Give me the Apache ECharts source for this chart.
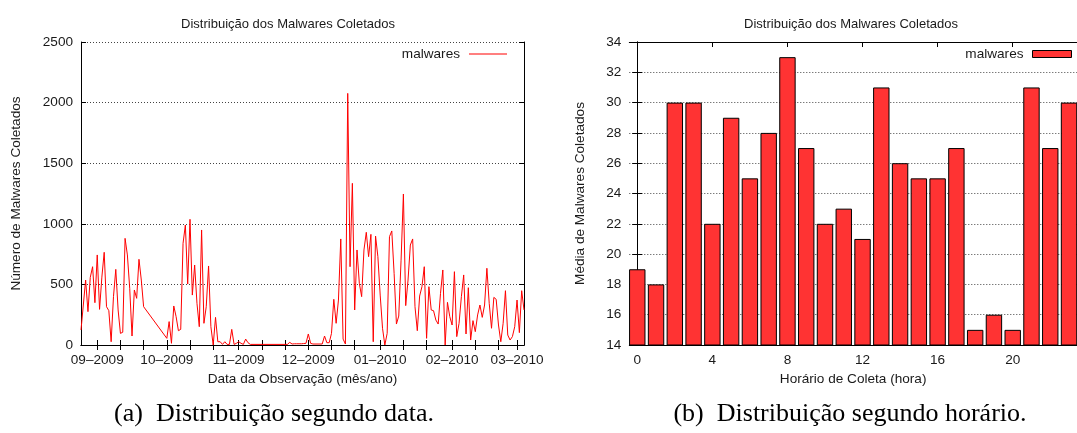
<!DOCTYPE html>
<html>
<head>
<meta charset="utf-8">
<script src="https://cdn.jsdelivr.net/npm/echarts@6/dist/echarts.min.js"></script>
<style>
  html, body { margin: 0; padding: 0; background: #fff; overflow: hidden; }
  #chart { width: 1077px; height: 433px; }
</style>
</head>
<body>
<div id="chart"></div>
<script>
// ---- (a) daily malware counts ----
const firstDay = [2009, 7, 25]; // 25 Aug 2009 (month is 0-based)
const dayNumber = [
  0, 1, 2, 3, 4, 5, 6, 7, 8, 9, 10, 11, 12, 13, 14, 15, 16, 17, 18, 19,
  20, 21, 22, 23, 24, 25, 26, 27,
  37, 38, 39, 40, 41, 42, 43, 44, 45, 46, 47, 48, 49, 50, 51, 52, 53, 54,
  55, 56, 57, 58, 59, 60, 61, 62, 63, 64, 65, 66, 67, 68, 69, 70, 71, 72, 73,
  89, 90, 91, 92, 93, 94, 95, 96, 97, 98, 99, 100,
  104, 105, 106, 107, 108, 109, 110, 111, 112, 113, 114, 115, 116, 117, 118,
  119, 120, 121, 122, 123, 124, 125, 126, 127, 128, 129, 130, 131, 132, 133,
  134, 135, 136, 137, 138, 139, 140, 141, 142, 143, 144, 145, 146, 147, 148,
  149, 150, 151, 152, 153, 154, 155, 156, 157, 158, 159, 160, 161, 162, 163,
  164, 165, 166, 167, 168, 169, 170, 171, 172, 173, 174, 175, 176, 177, 178,
  179, 180, 181, 182, 183, 184, 185, 186, 187, 188, 189, 190, 191
];
const malwareCounts = [
  124, 330, 536, 275, 558, 646, 349, 743, 294, 560, 765, 316, 283, 27, 399, 624, 289, 96, 105, 880,
  743, 468, 74, 454, 385, 707, 536, 316,
  55, 193, 14, 322, 234, 118, 129, 839, 990, 503, 1037, 412, 660, 344, 151, 949, 179, 316,
  652, 151, 0, 228, 27, 27, 5, 27, 5, 5, 129, 5, 14, 27, 14, 5, 49, 19, 5,
  5, 22, 8, 10, 10, 10, 10, 12, 14, 91, 14, 8,
  8, 74, 19, 19, 96, 377, 179, 371, 875, 49, 8, 2076, 646, 1334, 289,
  784, 509, 399, 784, 930, 729, 913, 27, 899, 729, 412, 138, 0, 96, 894,
  941, 591, 173, 239, 700, 1246, 325, 536, 825, 875, 316, 118, 404, 481, 646,
  55, 481, 289, 283, 206, 173, 426, 619, 0, 352, 234, 165, 605, 69, 179,
  399, 578, 91, 473, 41, 201, 110, 248, 330, 228, 330, 633, 344, 138, 393,
  377, 165, 27, 179, 448, 82, 41, 69, 151, 371, 102, 448, 289
];
const lastDay = 191;
const monthLabels = [[2009, 8], [2009, 9], [2009, 10], [2009, 11], [2010, 0], [2010, 1], [2010, 2]];
const tickDaysOfMonth = [1, 11, 21];

// ---- (b) mean count per collection hour ----
const hours = [0, 1, 2, 3, 4, 5, 6, 7, 8, 9, 10, 11, 12, 13, 14, 15, 16, 17, 18, 19, 20, 21, 22, 23];
const meanPerHour = [19, 18, 30, 30, 22, 29, 25, 28, 33, 27, 22, 23, 21, 31, 26, 25, 25, 27, 15, 16, 15, 31, 27, 30];
const hourTicks = [0, 4, 8, 12, 16, 20];

// dates are handled as millisecond timestamps on a numeric axis
const dayTime = d => new Date(firstDay[0], firstDay[1], firstDay[2] + d).getTime();
const lineData = dayNumber.map((d, i) => [dayTime(d), malwareCounts[i]]);
const barData = hours.map((h, i) => [h, meanPerHour[i]]);

const monthStarts = monthLabels.map(([y, m]) => new Date(y, m, 1).getTime());
const dateTicks = [];
monthLabels.forEach(([y, m]) => tickDaysOfMonth.forEach(dd => {
  const t = new Date(y, m, dd).getTime();
  if (t >= dayTime(0) && t <= dayTime(lastDay)) dateTicks.push(t);
}));

const SANS = 'Liberation Sans';
const TXT = '#1a1a1a';
const FS = 13.6;
const axisLine = { show: true, lineStyle: { color: '#000', width: 1 } };
const tick = vals => ({ show: true, inside: true, length: 5, customValues: vals, lineStyle: { color: '#000', width: 1 } });
const yTick = { show: true, inside: true, length: 5, lineStyle: { color: '#000', width: 1 } };
const gridLine = { show: true, lineStyle: { color: '#444', width: 1, type: [1, 2] } };
const lbl = extra => Object.assign({ color: TXT, fontFamily: SANS, fontSize: FS }, extra);
const pad2 = n => (n < 10 ? '0' : '') + n;
const plain = v => String(v);
const titleStyle = { fontFamily: SANS, fontSize: 13, fontWeight: 'normal', color: TXT };
const captionStyle = { fontFamily: 'Liberation Serif', fontSize: 26, fontWeight: 'normal', color: '#000' };

const option = {
  animation: false,
  backgroundColor: '#fff',
  title: [
    { text: 'Distribuição dos Malwares Coletados', left: 283, top: 13, textAlign: 'center', textStyle: titleStyle },
    { text: 'Distribuição dos Malwares Coletados', left: 846, top: 13, textAlign: 'center', textStyle: titleStyle },
    { text: '(a)  Distribuição segundo data.', left: 269, top: 396, textAlign: 'center', textStyle: captionStyle },
    { text: '(b)  Distribuição segundo horário.', left: 845, top: 396, textAlign: 'center', textStyle: captionStyle }
  ],
  legend: [
    { data: ['malwares-data'], right: 570, top: 47, padding: 0, align: 'right',
      icon: 'rect', itemWidth: 38, itemHeight: 1, selectedMode: false,
      formatter: () => 'malwares', textStyle: lbl({ padding: [0, 4, 0, 0] }) },
    { data: ['malwares-hora'], right: 5, top: 47, padding: 0, align: 'right',
      icon: 'rect', itemWidth: 39, itemHeight: 7, selectedMode: false,
      itemStyle: { borderColor: '#000', borderWidth: 1 },
      formatter: () => 'malwares', textStyle: lbl({ padding: [0, 4, 0, 0] }) }
  ],
  grid: [
    { left: 81, top: 42, width: 443, height: 303 },
    { left: 629.3, top: 42, width: 460.1, height: 303 }
  ],
  xAxis: [
    { type: 'value', gridIndex: 0, min: dayTime(0), max: dayTime(lastDay),
      name: 'Data da Observação (mês/ano)', nameLocation: 'middle', nameGap: 27,
      nameTextStyle: lbl({}),
      axisLine, axisTick: tick(dateTicks), splitLine: { show: false },
      axisLabel: lbl({ margin: 8, customValues: monthStarts, hideOverlap: false,
        formatter: v => { const d = new Date(v); return pad2(d.getMonth() + 1) + '–' + d.getFullYear(); } }) },
    { type: 'value', gridIndex: 0, position: 'top', min: dayTime(0), max: dayTime(lastDay),
      axisLine, axisTick: tick(dateTicks), axisLabel: { show: false }, splitLine: { show: false } },
    { type: 'value', gridIndex: 1, min: -0.425, max: 23.425,
      name: 'Horário de Coleta (hora)', nameLocation: 'middle', nameGap: 27,
      nameTextStyle: lbl({}),
      axisLine, axisTick: tick(hourTicks), splitLine: { show: false },
      axisLabel: lbl({ margin: 8, customValues: hourTicks, formatter: plain }) },
    { type: 'value', gridIndex: 1, position: 'top', min: -0.425, max: 23.425,
      axisLine, axisTick: tick(hourTicks), axisLabel: { show: false }, splitLine: { show: false } }
  ],
  yAxis: [
    { type: 'value', gridIndex: 0, min: 0, max: 2500, interval: 500,
      name: 'Número de Malwares Coletados', nameLocation: 'middle', nameGap: 58,
      nameTextStyle: lbl({}),
      axisLine, axisTick: yTick, splitLine: gridLine, axisLabel: lbl({ margin: 8, formatter: plain }) },
    { type: 'value', gridIndex: 0, position: 'right', min: 0, max: 2500, interval: 500,
      axisLine, axisTick: yTick, splitLine: { show: false }, axisLabel: { show: false } },
    { type: 'value', gridIndex: 1, min: 14, max: 34, interval: 2,
      name: 'Média de Malwares Coletados', nameLocation: 'middle', nameGap: 42,
      nameTextStyle: lbl({}),
      axisLine, axisTick: yTick, splitLine: gridLine, axisLabel: lbl({ margin: 8, formatter: plain }) },
    { type: 'value', gridIndex: 1, position: 'right', min: 14, max: 34, interval: 2,
      axisLine, axisTick: yTick, splitLine: { show: false }, axisLabel: { show: false } }
  ],
  series: [
    { name: 'malwares-data', type: 'line', xAxisIndex: 0, yAxisIndex: 0, data: lineData,
      showSymbol: false, symbol: 'none', color: '#ff0000',
      lineStyle: { color: '#ff0000', width: 1 }, z: 3 },
    { name: 'malwares-hora', type: 'bar', xAxisIndex: 2, yAxisIndex: 2, data: barData,
      barWidth: 16.4, color: '#ff3333',
      itemStyle: { color: '#ff3333', borderColor: '#000', borderWidth: 1 }, z: 3 }
  ]
};

const chart = echarts.init(document.getElementById('chart'), null, { renderer: 'canvas' });
chart.setOption(option);
</script>
</body>
</html>
